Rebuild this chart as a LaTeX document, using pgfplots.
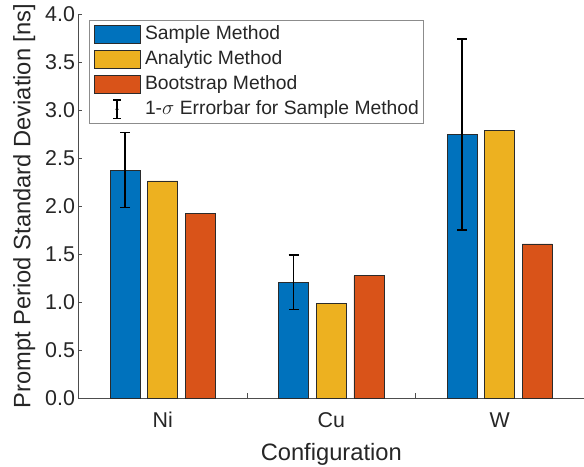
\documentclass[border=0pt]{standalone}
\usepackage{fontspec}
\setmainfont{Liberation Sans}
\usepackage{pgfplots}
\pgfplotsset{compat=1.18}
\definecolor{mblue}{HTML}{0072BD}
\definecolor{myellow}{HTML}{EDB120}
\definecolor{morange}{HTML}{D95319}
\definecolor{txt}{HTML}{262626}
\definecolor{axgray}{HTML}{4D4D4D}
\definecolor{edge}{HTML}{2B2B2B}
\definecolor{leggray}{HTML}{8C8C8C}
\begin{document}
\begin{tikzpicture}
\begin{axis}[
  name=ax,
  scale only axis,
  width=505.5bp, height=384.3bp,
  xmin=0.5, xmax=3.5, ymin=0, ymax=4,
  enlarge x limits=false, enlarge y limits=false,
  axis x line=bottom, axis y line=left,
  axis line style={-, draw=axgray, line width=0.8bp},
  ybar=7.7bp, bar width=30bp,
  xtick={1,2,3}, xticklabels={Ni,Cu,W},
  minor xtick={1.5,2.5},
  major x tick style={draw=none},
  minor x tick style={draw=axgray, line width=0.8bp},
  ytick={0,0.5,...,4},
  major y tick style={draw=axgray, line width=0.8bp},
  tick align=inside,
  major tick length=4bp, minor tick length=5bp,
  /pgf/number format/.cd, fixed, fixed zerofill, precision=1, assume math mode=true,
  /pgfplots/.cd,
  tick label style={font=\fontsize{21.4bp}{25bp}\selectfont, text=txt},
  xticklabel style={anchor=base, yshift=-29.7bp},
  label style={font=\fontsize{23.7bp}{28bp}\selectfont, text=txt},
  xlabel={Configuration},
  xlabel style={at={(axis description cs:0.5,0)}, anchor=base, yshift=-62bp},
  ylabel={Prompt Period Standard Deviation [ns]},
  ylabel style={at={([xshift=-48bp]axis description cs:0,0.5)}, anchor=base},
  legend image code/.code={\draw[#1] (0bp,-9.35bp) rectangle (46bp,9.35bp);},
  legend cell align=left,
  legend style={at={(axis description cs:0.0202,0.985)}, anchor=north west,
    draw=leggray, line width=0.8bp, fill=white,
    inner xsep=4.6bp, inner ysep=1.6bp,
    row sep=0bp, column sep=4.7bp,
    font=\fontsize{19.3bp}{23bp}\selectfont, text=txt,
    nodes={inner sep=0pt, text height=17.6bp, text depth=7.4bp}},
]
\addplot[fill=mblue, draw=edge, line width=0.6bp,
  error bars/.cd, y dir=both, y explicit,
  error bar style={black, line width=1.5bp},
  error mark options={black, line width=1.5bp, mark size=5bp, rotate=90}]
  table[x=x, y=y, y error=e] {
x y e
1 2.376 0.392
2 1.206 0.283
3 2.748 0.994
};
\addlegendentry{Sample Method}
\addplot[fill=myellow, draw=edge, line width=0.6bp] table[x=x, y=y] {
x y
1 2.262
2 0.989
3 2.787
};
\addlegendentry{Analytic Method}
\addplot[fill=morange, draw=edge, line width=0.6bp] table[x=x, y=y] {
x y
1 1.928
2 1.275
3 1.607
};
\addlegendentry{Bootstrap Method}
\addlegendimage{legend image code/.code={
  \path[draw=none, fill=none] (0bp,-8bp) rectangle (46bp,8bp);
  \draw[black, line width=1.3bp] (23bp,-9.3bp) -- (23bp,9.3bp);
  \draw[black, line width=1.3bp] (19bp,-9.3bp) -- (27bp,-9.3bp);
  \draw[black, line width=1.3bp] (19bp,9.3bp) -- (27bp,9.3bp);
  \fill[black] (23bp,0bp) circle (1bp);}}
\addlegendentry{1-$\sigma$ Errorbar for Sample Method}
\end{axis}
\pgfresetboundingbox
\path ([xshift=-78.5bp,yshift=-68.7bp]ax.south west) rectangle ([yshift=14bp]ax.north east);
\end{tikzpicture}
\end{document}
